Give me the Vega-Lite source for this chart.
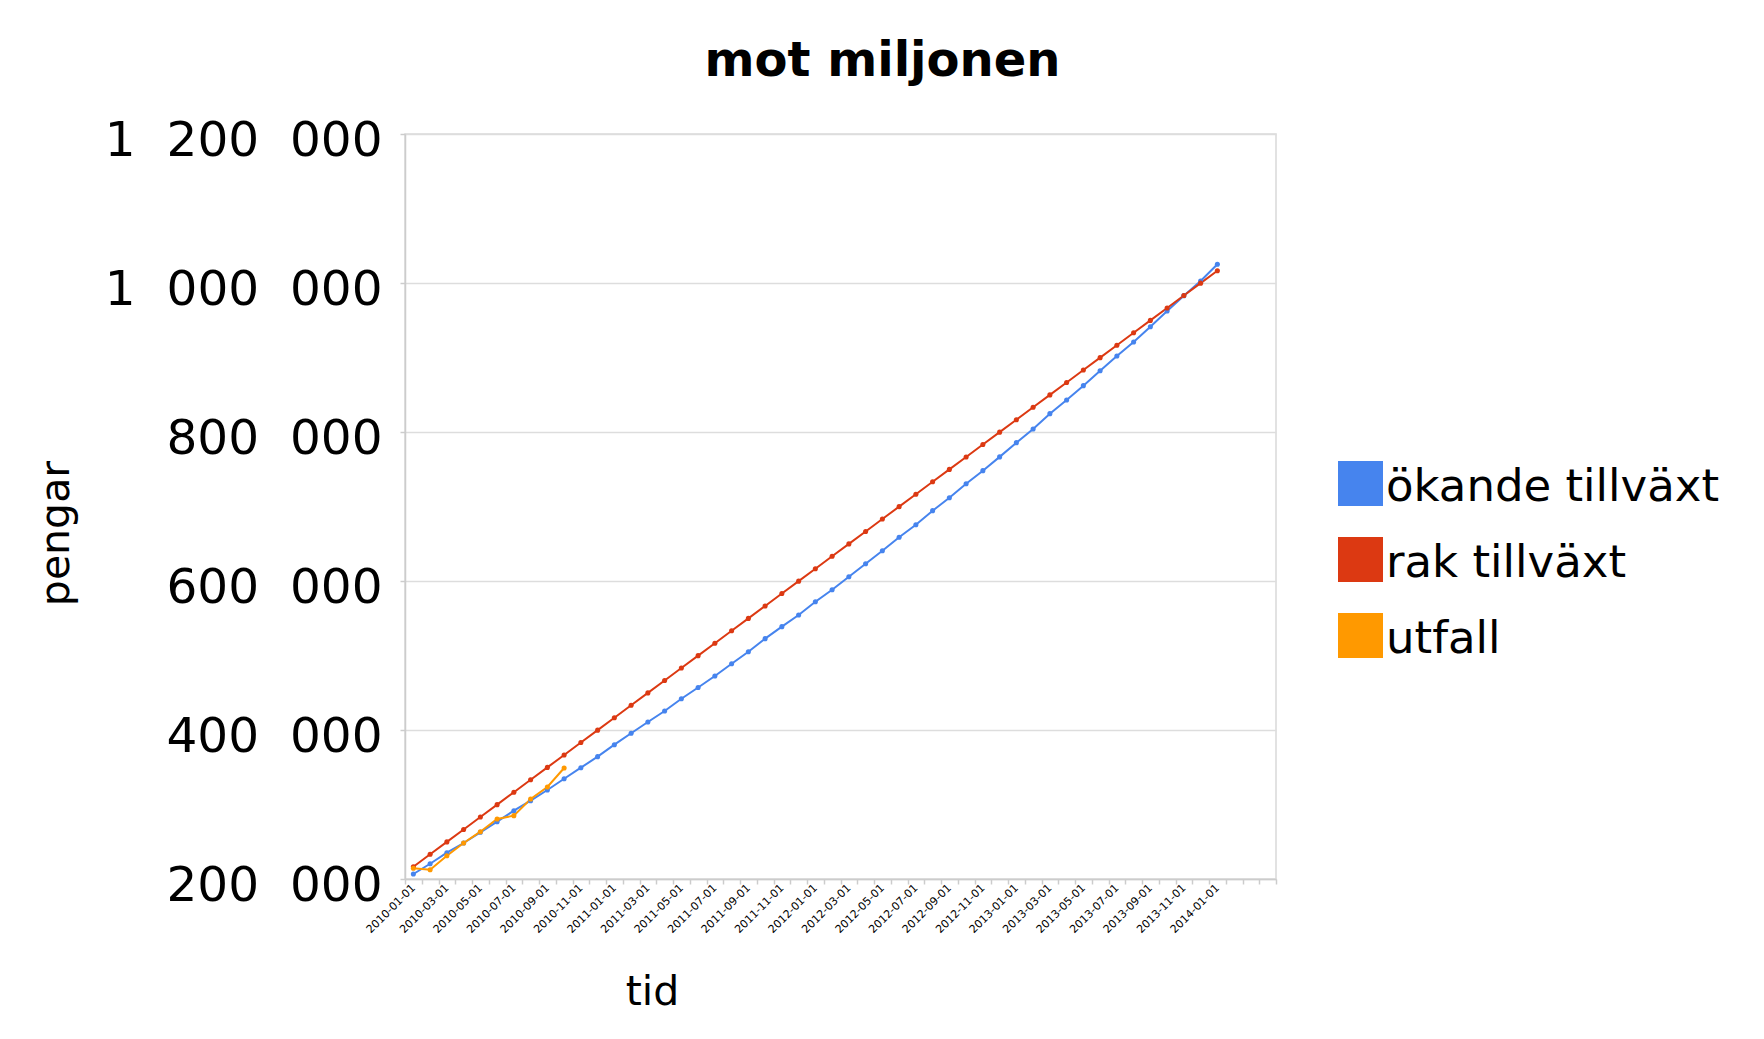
{
  "$schema": "https://vega.github.io/schema/vega-lite/v6.json",
  "autosize": "none",
  "width": 871,
  "height": 745,
  "padding": {"left": 405, "top": 134, "right": 488, "bottom": 160},
  "background": "white",
  "config": {
    "font": "DejaVu Sans",
    "view": {"stroke": "#d9d9d9", "strokeWidth": 1.5}
  },
  "title": {
    "text": "mot miljonen",
    "fontSize": 48,
    "fontWeight": "bold",
    "font": "DejaVu Sans",
    "color": "black",
    "anchor": "middle",
    "frame": "group",
    "dx": 42,
    "offset": 30
  },
  "data": {
    "values": [
      {"tid": "2010-01-01", "serie": "ökande tillväxt", "pengar": 206700},
      {"tid": "2010-02-01", "serie": "ökande tillväxt", "pengar": 220500},
      {"tid": "2010-03-01", "serie": "ökande tillväxt", "pengar": 235300},
      {"tid": "2010-04-01", "serie": "ökande tillväxt", "pengar": 248300},
      {"tid": "2010-05-01", "serie": "ökande tillväxt", "pengar": 262700},
      {"tid": "2010-06-01", "serie": "ökande tillväxt", "pengar": 276900},
      {"tid": "2010-07-01", "serie": "ökande tillväxt", "pengar": 291700},
      {"tid": "2010-08-01", "serie": "ökande tillväxt", "pengar": 305100},
      {"tid": "2010-09-01", "serie": "ökande tillväxt", "pengar": 319500},
      {"tid": "2010-10-01", "serie": "ökande tillväxt", "pengar": 334600},
      {"tid": "2010-11-01", "serie": "ökande tillväxt", "pengar": 349400},
      {"tid": "2010-12-01", "serie": "ökande tillväxt", "pengar": 364200},
      {"tid": "2011-01-01", "serie": "ökande tillväxt", "pengar": 380300},
      {"tid": "2011-02-01", "serie": "ökande tillväxt", "pengar": 395600},
      {"tid": "2011-03-01", "serie": "ökande tillväxt", "pengar": 410700},
      {"tid": "2011-04-01", "serie": "ökande tillväxt", "pengar": 425500},
      {"tid": "2011-05-01", "serie": "ökande tillväxt", "pengar": 442000},
      {"tid": "2011-06-01", "serie": "ökande tillväxt", "pengar": 457000},
      {"tid": "2011-07-01", "serie": "ökande tillväxt", "pengar": 472500},
      {"tid": "2011-08-01", "serie": "ökande tillväxt", "pengar": 489000},
      {"tid": "2011-09-01", "serie": "ökande tillväxt", "pengar": 505100},
      {"tid": "2011-10-01", "serie": "ökande tillväxt", "pengar": 522600},
      {"tid": "2011-11-01", "serie": "ökande tillväxt", "pengar": 538700},
      {"tid": "2011-12-01", "serie": "ökande tillväxt", "pengar": 554400},
      {"tid": "2012-01-01", "serie": "ökande tillväxt", "pengar": 572200},
      {"tid": "2012-02-01", "serie": "ökande tillväxt", "pengar": 588300},
      {"tid": "2012-03-01", "serie": "ökande tillväxt", "pengar": 605800},
      {"tid": "2012-04-01", "serie": "ökande tillväxt", "pengar": 623200},
      {"tid": "2012-05-01", "serie": "ökande tillväxt", "pengar": 640700},
      {"tid": "2012-06-01", "serie": "ökande tillväxt", "pengar": 658700},
      {"tid": "2012-07-01", "serie": "ökande tillväxt", "pengar": 675600},
      {"tid": "2012-08-01", "serie": "ökande tillväxt", "pengar": 694400},
      {"tid": "2012-09-01", "serie": "ökande tillväxt", "pengar": 711800},
      {"tid": "2012-10-01", "serie": "ökande tillväxt", "pengar": 730600},
      {"tid": "2012-11-01", "serie": "ökande tillväxt", "pengar": 748100},
      {"tid": "2012-12-01", "serie": "ökande tillväxt", "pengar": 766600},
      {"tid": "2013-01-01", "serie": "ökande tillväxt", "pengar": 785700},
      {"tid": "2013-02-01", "serie": "ökande tillväxt", "pengar": 804000},
      {"tid": "2013-03-01", "serie": "ökande tillväxt", "pengar": 824600},
      {"tid": "2013-04-01", "serie": "ökande tillväxt", "pengar": 843000},
      {"tid": "2013-05-01", "serie": "ökande tillväxt", "pengar": 862200},
      {"tid": "2013-06-01", "serie": "ökande tillväxt", "pengar": 882300},
      {"tid": "2013-07-01", "serie": "ökande tillväxt", "pengar": 902000},
      {"tid": "2013-08-01", "serie": "ökande tillväxt", "pengar": 920800},
      {"tid": "2013-09-01", "serie": "ökande tillväxt", "pengar": 941300},
      {"tid": "2013-10-01", "serie": "ökande tillväxt", "pengar": 962400},
      {"tid": "2013-11-01", "serie": "ökande tillväxt", "pengar": 983000},
      {"tid": "2013-12-01", "serie": "ökande tillväxt", "pengar": 1002700},
      {"tid": "2014-01-01", "serie": "ökande tillväxt", "pengar": 1025100},
      {"tid": "2010-01-01", "serie": "rak tillväxt", "pengar": 216500},
      {"tid": "2010-02-01", "serie": "rak tillväxt", "pengar": 233200},
      {"tid": "2010-03-01", "serie": "rak tillväxt", "pengar": 249800},
      {"tid": "2010-04-01", "serie": "rak tillväxt", "pengar": 266500},
      {"tid": "2010-05-01", "serie": "rak tillväxt", "pengar": 283200},
      {"tid": "2010-06-01", "serie": "rak tillväxt", "pengar": 299800},
      {"tid": "2010-07-01", "serie": "rak tillväxt", "pengar": 316500},
      {"tid": "2010-08-01", "serie": "rak tillväxt", "pengar": 333200},
      {"tid": "2010-09-01", "serie": "rak tillväxt", "pengar": 349800},
      {"tid": "2010-10-01", "serie": "rak tillväxt", "pengar": 366500},
      {"tid": "2010-11-01", "serie": "rak tillväxt", "pengar": 383200},
      {"tid": "2010-12-01", "serie": "rak tillväxt", "pengar": 399800},
      {"tid": "2011-01-01", "serie": "rak tillväxt", "pengar": 416500},
      {"tid": "2011-02-01", "serie": "rak tillväxt", "pengar": 433200},
      {"tid": "2011-03-01", "serie": "rak tillväxt", "pengar": 449800},
      {"tid": "2011-04-01", "serie": "rak tillväxt", "pengar": 466500},
      {"tid": "2011-05-01", "serie": "rak tillväxt", "pengar": 483200},
      {"tid": "2011-06-01", "serie": "rak tillväxt", "pengar": 499800},
      {"tid": "2011-07-01", "serie": "rak tillväxt", "pengar": 516500},
      {"tid": "2011-08-01", "serie": "rak tillväxt", "pengar": 533200},
      {"tid": "2011-09-01", "serie": "rak tillväxt", "pengar": 549800},
      {"tid": "2011-10-01", "serie": "rak tillväxt", "pengar": 566500},
      {"tid": "2011-11-01", "serie": "rak tillväxt", "pengar": 583200},
      {"tid": "2011-12-01", "serie": "rak tillväxt", "pengar": 599800},
      {"tid": "2012-01-01", "serie": "rak tillväxt", "pengar": 616500},
      {"tid": "2012-02-01", "serie": "rak tillväxt", "pengar": 633200},
      {"tid": "2012-03-01", "serie": "rak tillväxt", "pengar": 649800},
      {"tid": "2012-04-01", "serie": "rak tillväxt", "pengar": 666500},
      {"tid": "2012-05-01", "serie": "rak tillväxt", "pengar": 683200},
      {"tid": "2012-06-01", "serie": "rak tillväxt", "pengar": 699800},
      {"tid": "2012-07-01", "serie": "rak tillväxt", "pengar": 716500},
      {"tid": "2012-08-01", "serie": "rak tillväxt", "pengar": 733200},
      {"tid": "2012-09-01", "serie": "rak tillväxt", "pengar": 749800},
      {"tid": "2012-10-01", "serie": "rak tillväxt", "pengar": 766500},
      {"tid": "2012-11-01", "serie": "rak tillväxt", "pengar": 783200},
      {"tid": "2012-12-01", "serie": "rak tillväxt", "pengar": 799800},
      {"tid": "2013-01-01", "serie": "rak tillväxt", "pengar": 816500},
      {"tid": "2013-02-01", "serie": "rak tillväxt", "pengar": 833200},
      {"tid": "2013-03-01", "serie": "rak tillväxt", "pengar": 849800},
      {"tid": "2013-04-01", "serie": "rak tillväxt", "pengar": 866500},
      {"tid": "2013-05-01", "serie": "rak tillväxt", "pengar": 883200},
      {"tid": "2013-06-01", "serie": "rak tillväxt", "pengar": 899800},
      {"tid": "2013-07-01", "serie": "rak tillväxt", "pengar": 916500},
      {"tid": "2013-08-01", "serie": "rak tillväxt", "pengar": 933200},
      {"tid": "2013-09-01", "serie": "rak tillväxt", "pengar": 949800},
      {"tid": "2013-10-01", "serie": "rak tillväxt", "pengar": 966500},
      {"tid": "2013-11-01", "serie": "rak tillväxt", "pengar": 983200},
      {"tid": "2013-12-01", "serie": "rak tillväxt", "pengar": 999800},
      {"tid": "2014-01-01", "serie": "rak tillväxt", "pengar": 1016500},
      {"tid": "2010-01-01", "serie": "utfall", "pengar": 214400},
      {"tid": "2010-02-01", "serie": "utfall", "pengar": 212500},
      {"tid": "2010-03-01", "serie": "utfall", "pengar": 231300},
      {"tid": "2010-04-01", "serie": "utfall", "pengar": 248300},
      {"tid": "2010-05-01", "serie": "utfall", "pengar": 263500},
      {"tid": "2010-06-01", "serie": "utfall", "pengar": 280500},
      {"tid": "2010-07-01", "serie": "utfall", "pengar": 285000},
      {"tid": "2010-08-01", "serie": "utfall", "pengar": 307400},
      {"tid": "2010-09-01", "serie": "utfall", "pengar": 323500},
      {"tid": "2010-10-01", "serie": "utfall", "pengar": 349000}
    ]
  },
  "mark": {"type": "line", "strokeWidth": 2, "point": {"filled": true, "size": 26}},
  "encoding": {
    "x": {
      "field": "tid",
      "type": "ordinal",
      "bandPosition": 0.5,
      "scale": {
        "type": "band",
        "paddingInner": 0,
        "paddingOuter": 0,
        "domain": ["2010-01-01","2010-02-01","2010-03-01","2010-04-01","2010-05-01","2010-06-01","2010-07-01","2010-08-01","2010-09-01","2010-10-01","2010-11-01","2010-12-01","2011-01-01","2011-02-01","2011-03-01","2011-04-01","2011-05-01","2011-06-01","2011-07-01","2011-08-01","2011-09-01","2011-10-01","2011-11-01","2011-12-01","2012-01-01","2012-02-01","2012-03-01","2012-04-01","2012-05-01","2012-06-01","2012-07-01","2012-08-01","2012-09-01","2012-10-01","2012-11-01","2012-12-01","2013-01-01","2013-02-01","2013-03-01","2013-04-01","2013-05-01","2013-06-01","2013-07-01","2013-08-01","2013-09-01","2013-10-01","2013-11-01","2013-12-01","2014-01-01","2014-02-01","2014-03-01","2014-04-01"]
      },
      "axis": {
        "title": "tid",
        "titleFontSize": 41,
        "titleFontWeight": "normal",
        "titleColor": "black",
        "titleX": 247,
        "titleY": 125,
        "titleAlign": "center",
        "titleBaseline": "alphabetic",
        "labelExpr": "(parseInt(substring(datum.value, 5, 7)) % 2 == 1 && datum.value <= '2014-01-01') ? datum.value : ''",
        "labelAngle": -45,
        "labelAlign": "right",
        "labelBaseline": "middle",
        "labelFontSize": 11,
        "labelColor": "black",
        "labelPadding": 2,
        "labelOverlap": false,
        "labelBound": false,
        "tickBand": "extent",
        "tickSize": 5,
        "tickColor": "#cccccc",
        "tickWidth": 1.5,
        "domainColor": "#cccccc",
        "domainWidth": 1.5,
        "grid": false
      }
    },
    "y": {
      "field": "pengar",
      "type": "quantitative",
      "scale": {"domain": [200000, 1200000], "nice": false, "zero": false},
      "axis": {
        "title": "pengar",
        "titleFontSize": 41,
        "titleFontWeight": "normal",
        "titleColor": "black",
        "titleAngle": 270,
        "titleX": -337,
        "titleY": 399,
        "titleAlign": "center",
        "titleBaseline": "alphabetic",
        "values": [200000, 400000, 600000, 800000, 1000000, 1200000],
        "labelExpr": "replace(format(datum.value, ','), /,/g, '\u00a0\u00a0')",
        "labelFontSize": 48.5,
        "labelColor": "black",
        "labelPadding": 18,
        "labelOffset": 6,
        "labelLimit": 0,
        "tickSize": 5,
        "tickColor": "#cccccc",
        "tickWidth": 1.5,
        "domainColor": "#cccccc",
        "domainWidth": 1.5,
        "gridColor": "#dddddd",
        "gridWidth": 1.5
      }
    },
    "color": {
      "field": "serie",
      "type": "nominal",
      "scale": {
        "domain": ["ökande tillväxt", "rak tillväxt", "utfall"],
        "range": ["#4684ee", "#dc3912", "#ff9900"]
      },
      "legend": {
        "title": null,
        "orient": "none",
        "legendX": 933,
        "legendY": 327,
        "padding": 0,
        "symbolType": "square",
        "symbolSize": 2025,
        "symbolStrokeWidth": 0,
        "labelFontSize": 45,
        "labelColor": "black",
        "labelLimit": 1000,
        "labelOffset": 3,
        "rowPadding": 27,
        "encode": {
          "symbols": {
            "update": {
              "fill": {"scale": "color", "field": "value"},
              "fillOpacity": {"value": 1},
              "strokeWidth": {"value": 0},
              "shape": {"value": "square"},
              "size": {"value": 2025}
            }
          },
          "labels": {
            "update": {
              "dy": {"value": 3}
            }
          }
        }
      }
    }
  }
}
